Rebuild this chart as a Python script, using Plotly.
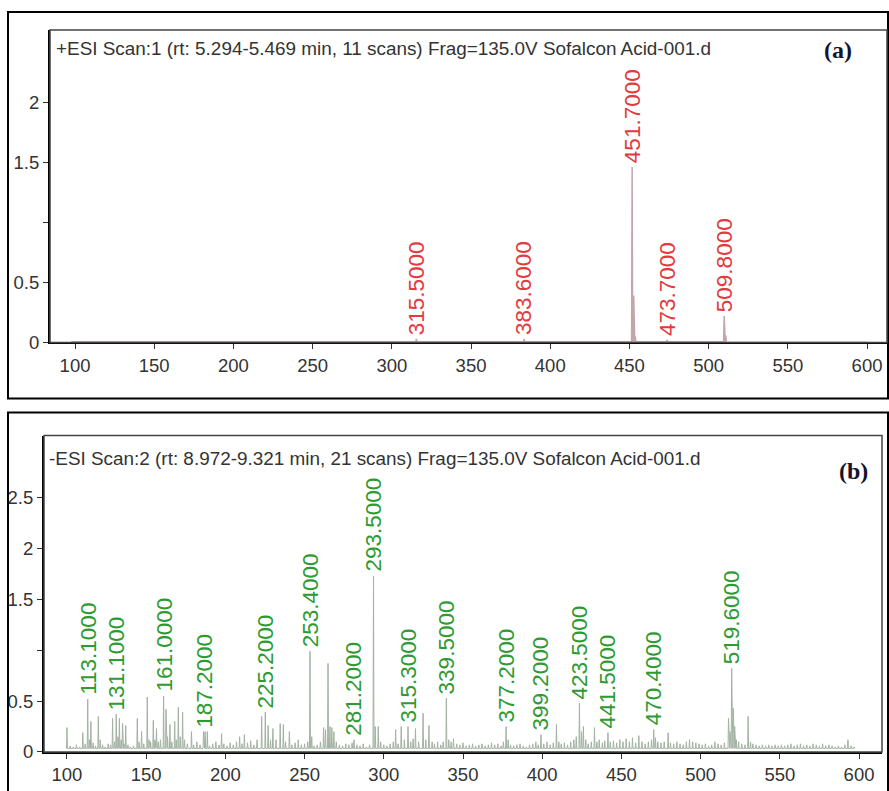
import plotly.graph_objects as go

# ---------------- (a) positive-ion scan ----------------
pos_label_mz = [315.5, 383.6, 451.7, 473.7, 509.8]
pos_label_int = [0.03, 0.03, 1.46, 0.02, 0.22]
pos_other_mz = [98.0, 110.0, 150.0, 165.0, 452.7, 453.7, 510.8]
pos_other_int = [0.01, 0.01, 0.01, 0.01, 0.39, 0.05, 0.06]

# ---------------- (b) negative-ion scan ----------------
neg_label_mz = [113.1, 131.1, 161.0, 187.2, 225.2, 253.4, 281.2, 293.5,
                315.3, 339.5, 377.2, 399.2, 423.5, 441.5, 470.4, 519.6]
neg_label_int = [0.52, 0.37, 0.55, 0.20, 0.39, 0.99, 0.12, 1.73,
                 0.25, 0.53, 0.25, 0.17, 0.48, 0.19, 0.22, 0.82]

neg_other_mz = [
    100.0, 102.0, 104.0, 106.0, 108.0, 110.0, 111.5, 114.2, 115.1, 116.5,
    118.0, 119.8, 121.0, 122.5, 124.0, 126.0, 127.5, 128.8, 130.0, 132.2,
    133.1, 134.2, 135.1, 136.0, 137.1, 138.5, 140.0, 142.0, 144.4, 145.5,
    147.1, 148.5, 150.7, 151.8, 152.8, 154.5, 155.5, 156.5, 157.6, 159.0,
    162.5, 163.5, 165.0, 166.2, 168.0, 169.0, 170.3, 171.5, 173.0, 174.2,
    176.0, 178.6, 180.0, 182.0, 184.0, 186.2, 188.6, 190.0, 192.0, 194.0,
    196.0, 197.6, 199.0, 201.0, 203.0, 205.0, 207.0, 209.0, 210.5, 212.0,
    214.0, 216.0, 218.0, 220.0, 222.9, 227.0, 228.5, 230.0, 232.0, 234.6,
    236.6, 238.0, 240.4, 242.0, 244.0, 246.0, 248.0, 250.0, 252.0, 254.5,
    256.0, 258.0, 260.0, 262.0, 263.2, 264.8, 266.0, 267.2, 268.5, 270.0,
    272.0, 274.0, 276.0, 278.0, 280.0, 283.0, 285.0, 287.0, 289.0, 291.0,
    294.6, 296.5, 298.0, 300.0, 302.0, 304.0, 306.0, 307.5, 309.0, 311.0,
    313.0, 317.0, 318.5, 320.0, 322.0, 324.8, 326.5, 328.5, 330.5, 332.0,
    334.0, 336.0, 337.5, 341.0, 342.5, 344.0, 346.0, 348.0, 350.0, 352.0,
    354.0, 356.0, 358.0, 360.0, 362.0, 364.0, 366.0, 368.0, 370.0, 372.0,
    374.0, 375.5, 378.5, 380.0, 382.0, 384.0, 386.0, 388.0, 390.0, 392.0,
    394.0, 396.0, 397.5, 401.0, 403.0, 405.0, 407.0, 409.0, 410.5, 412.0,
    414.0, 416.0, 418.0, 420.0, 421.5, 424.8, 426.0, 427.5, 429.0, 431.0,
    433.0, 434.5, 436.0, 438.0, 439.5, 443.0, 445.0, 447.0, 449.0, 451.0,
    453.0, 455.0, 457.0, 459.0, 461.0, 463.0, 465.0, 467.0, 469.0, 471.5,
    473.0, 475.0, 477.0, 479.5, 481.0, 483.0, 485.0, 487.0, 489.0, 491.0,
    493.0, 495.0, 497.0, 499.0, 501.0, 503.0, 505.0, 507.0, 509.0, 511.0,
    513.0, 515.0, 517.6, 518.6, 520.6, 521.5, 522.5, 524.0, 526.0, 528.0,
    530.0, 531.5, 533.0, 535.0, 537.0, 539.0, 541.0, 543.0, 545.0, 547.0,
    549.0, 551.0, 553.0, 555.0, 557.0, 559.0, 561.0, 563.0, 565.0, 567.0,
    569.0, 571.0, 573.0, 575.0, 577.0, 579.0, 581.0, 583.0, 585.0, 587.0,
    589.0, 591.0, 593.0, 595.0, 597.0,
]
neg_other_int = [
    0.24, 0.06, 0.05, 0.07, 0.05, 0.19, 0.08, 0.12, 0.30, 0.09,
    0.06, 0.35, 0.12, 0.07, 0.05, 0.08, 0.07, 0.33, 0.10, 0.15,
    0.33, 0.12, 0.28, 0.08, 0.26, 0.07, 0.05, 0.06, 0.33, 0.10,
    0.20, 0.08, 0.54, 0.12, 0.10, 0.31, 0.12, 0.23, 0.10, 0.12,
    0.42, 0.15, 0.27, 0.10, 0.30, 0.12, 0.44, 0.15, 0.39, 0.12,
    0.08, 0.20, 0.07, 0.10, 0.07, 0.20, 0.20, 0.06, 0.08, 0.10,
    0.07, 0.18, 0.08, 0.06, 0.09, 0.07, 0.10, 0.15, 0.08, 0.17,
    0.09, 0.11, 0.07, 0.12, 0.35, 0.26, 0.12, 0.23, 0.12, 0.28,
    0.27, 0.10, 0.20, 0.07, 0.09, 0.12, 0.07, 0.08, 0.10, 0.15,
    0.06, 0.07, 0.10, 0.24, 0.22, 0.87, 0.25, 0.24, 0.20, 0.10,
    0.07, 0.06, 0.08, 0.07, 0.09, 0.07, 0.06, 0.08, 0.05, 0.07,
    0.25, 0.25, 0.10, 0.07, 0.06, 0.08, 0.10, 0.22, 0.08, 0.25,
    0.12, 0.10, 0.13, 0.23, 0.10, 0.38, 0.12, 0.26, 0.10, 0.08,
    0.10, 0.07, 0.10, 0.12, 0.10, 0.13, 0.08, 0.07, 0.09, 0.06,
    0.07, 0.08, 0.06, 0.07, 0.08, 0.06, 0.07, 0.09, 0.07, 0.08,
    0.06, 0.10, 0.12, 0.07, 0.06, 0.07, 0.08, 0.06, 0.05, 0.07,
    0.08, 0.10, 0.07, 0.08, 0.10, 0.07, 0.09, 0.27, 0.10, 0.08,
    0.09, 0.07, 0.10, 0.12, 0.15, 0.20, 0.25, 0.12, 0.08, 0.10,
    0.24, 0.10, 0.12, 0.09, 0.11, 0.10, 0.11, 0.09, 0.12, 0.10,
    0.13, 0.10, 0.14, 0.09, 0.16, 0.10, 0.08, 0.10, 0.12, 0.14,
    0.10, 0.09, 0.10, 0.19, 0.09, 0.08, 0.10, 0.08, 0.07, 0.10,
    0.12, 0.10, 0.09, 0.08, 0.07, 0.08, 0.06, 0.07, 0.10, 0.08,
    0.07, 0.09, 0.33, 0.20, 0.43, 0.25, 0.12, 0.10, 0.08, 0.07,
    0.35, 0.10, 0.08, 0.07, 0.06, 0.07, 0.06, 0.07, 0.06, 0.07,
    0.06, 0.07, 0.06, 0.07, 0.08, 0.06, 0.07, 0.08, 0.06, 0.07,
    0.06, 0.08, 0.07, 0.06, 0.08, 0.06, 0.07, 0.06, 0.05, 0.06,
    0.05, 0.07, 0.12, 0.06, 0.05,
]

x_ticks = [100, 150, 200, 250, 300, 350, 400, 450, 500, 550, 600]
pos_y_ticks = [0, 0.5, 1, 1.5, 2]
pos_y_text = ["0", "0.5", "", "1.5", "2"]
neg_y_ticks = [0, 0.5, 1, 1.5, 2, 2.5]
neg_y_text = ["0", "0.5", "", "1.5", "2", "2.5"]

W, H = 889, 791
H_REF = 780  # vertical reference length used for placing panels in paper units


def px(x):
    return x / W


def py(y):
    return 1 - y / H_REF


def profile(mz_vals, int_vals, base, half):
    """Connect centroid sticks into a continuous profile trace."""
    xs, ys = [], []
    for m, v in sorted(zip(mz_vals, int_vals)):
        xs += [m - half, m, m + half]
        ys += [base, v, base]
    return xs, ys


fig = go.Figure()

# top spectrum
bx, by = [100, 600], [0.006, 0.006]
fig.add_trace(go.Scatter(x=bx, y=by, mode="lines", xaxis="x", yaxis="y",
                         line=dict(color="#dcdcdc", width=1.5), hoverinfo="skip"))
tx, ty = profile(pos_label_mz + pos_other_mz, pos_label_int + pos_other_int, 0.006, 0.35)
fig.add_trace(go.Scatter(x=tx, y=ty, mode="lines", xaxis="x", yaxis="y",
                         line=dict(color="#c3a6a9", width=1.5)))

# bottom spectrum
gx, gy = profile(neg_label_mz + neg_other_mz, neg_label_int + neg_other_int, 0.035, 0.3)
fig.add_trace(go.Scatter(x=gx, y=gy, mode="lines", xaxis="x2", yaxis="y2",
                         line=dict(color="#a3b2a3", width=1)))

SANS = "Liberation Sans, Arial, sans-serif"
SERIF = "Liberation Serif, Times New Roman, serif"

annotations = []
for m, v in zip(pos_label_mz, pos_label_int):
    annotations.append(dict(x=m, y=v, xref="x", yref="y", text=f"{m:.4f}",
                            textangle=-90, showarrow=False, xanchor="center",
                            yanchor="bottom", yshift=2,
                            font=dict(family=SANS, size=22.5, color="#e23a40")))
for m, v in zip(neg_label_mz, neg_label_int):
    annotations.append(dict(x=m, y=v, xref="x2", yref="y2", text=f"{m:.4f}",
                            textangle=-90, showarrow=False, xanchor="center",
                            yanchor="bottom", yshift=2,
                            font=dict(family=SANS, size=22.5, color="#2e9a32")))

annotations += [
    dict(x=px(54), y=py(48), xref="paper", yref="paper", xanchor="left", yanchor="middle",
         text="+ESI Scan:1 (rt: 5.294-5.469 min, 11 scans) Frag=135.0V Sofalcon Acid-001.d",
         showarrow=False, font=dict(family=SANS, size=18.9, color="#333333")),
    dict(x=px(47), y=py(458), xref="paper", yref="paper", xanchor="left", yanchor="middle",
         text="-ESI Scan:2 (rt: 8.972-9.321 min, 21 scans) Frag=135.0V Sofalcon Acid-001.d",
         showarrow=False, font=dict(family=SANS, size=18.9, color="#333333")),
    dict(x=px(838), y=py(50), xref="paper", yref="paper", xanchor="center", yanchor="middle",
         text="<b>(a)</b>", showarrow=False,
         font=dict(family=SERIF, size=24, color="#14142e")),
    dict(x=px(853), y=py(470), xref="paper", yref="paper", xanchor="center", yanchor="middle",
         text="<b>(b)</b>", showarrow=False,
         font=dict(family=SERIF, size=24, color="#14142e")),
]

shapes = [
    # outer panel frames
    dict(type="rect", xref="paper", yref="paper", x0=px(8), x1=px(888), y0=py(398), y1=py(12),
         line=dict(color="black", width=2)),
    dict(type="rect", xref="paper", yref="paper", x0=px(8), x1=px(888), y0=py(800), y1=py(412),
         line=dict(color="black", width=2)),
    # inner plot frames
    dict(type="rect", xref="paper", yref="paper", x0=px(50), x1=px(887), y0=py(342), y1=py(30),
         line=dict(color="#444444", width=1.5)),
    dict(type="rect", xref="paper", yref="paper", x0=px(44), x1=px(882), y0=py(751), y1=py(435),
         line=dict(color="#444444", width=1.5)),
]

tick_font = dict(family=SANS, size=18.5, color="#333333")
axis_common = dict(showgrid=False, zeroline=False, showline=True, linecolor="black",
                   linewidth=2, ticks="outside", ticklen=5, tickcolor="#333333",
                   tickwidth=1.2, tickfont=tick_font)

fig.update_layout(
    width=W, height=H, autosize=False,
    margin=dict(l=0, r=0, t=0, b=0),
    paper_bgcolor="white", plot_bgcolor="white",
    showlegend=False,
    xaxis=dict(domain=[px(50), px(887)], range=[84.2, 612.6], anchor="y",
               tickvals=x_ticks, **axis_common),
    yaxis=dict(domain=[py(342), py(30)], range=[0, 2.6], anchor="x",
               tickvals=pos_y_ticks, ticktext=pos_y_text, **axis_common),
    xaxis2=dict(domain=[px(44), px(882)], range=[85.5, 614.5], anchor="y2",
                tickvals=x_ticks, **axis_common),
    yaxis2=dict(domain=[py(751), py(435)], range=[0, 3.11], anchor="x2",
                tickvals=neg_y_ticks, ticktext=neg_y_text, **axis_common),
    annotations=annotations,
    shapes=shapes,
)

fig.write_html("out.html", config={"displayModeBar": False})
